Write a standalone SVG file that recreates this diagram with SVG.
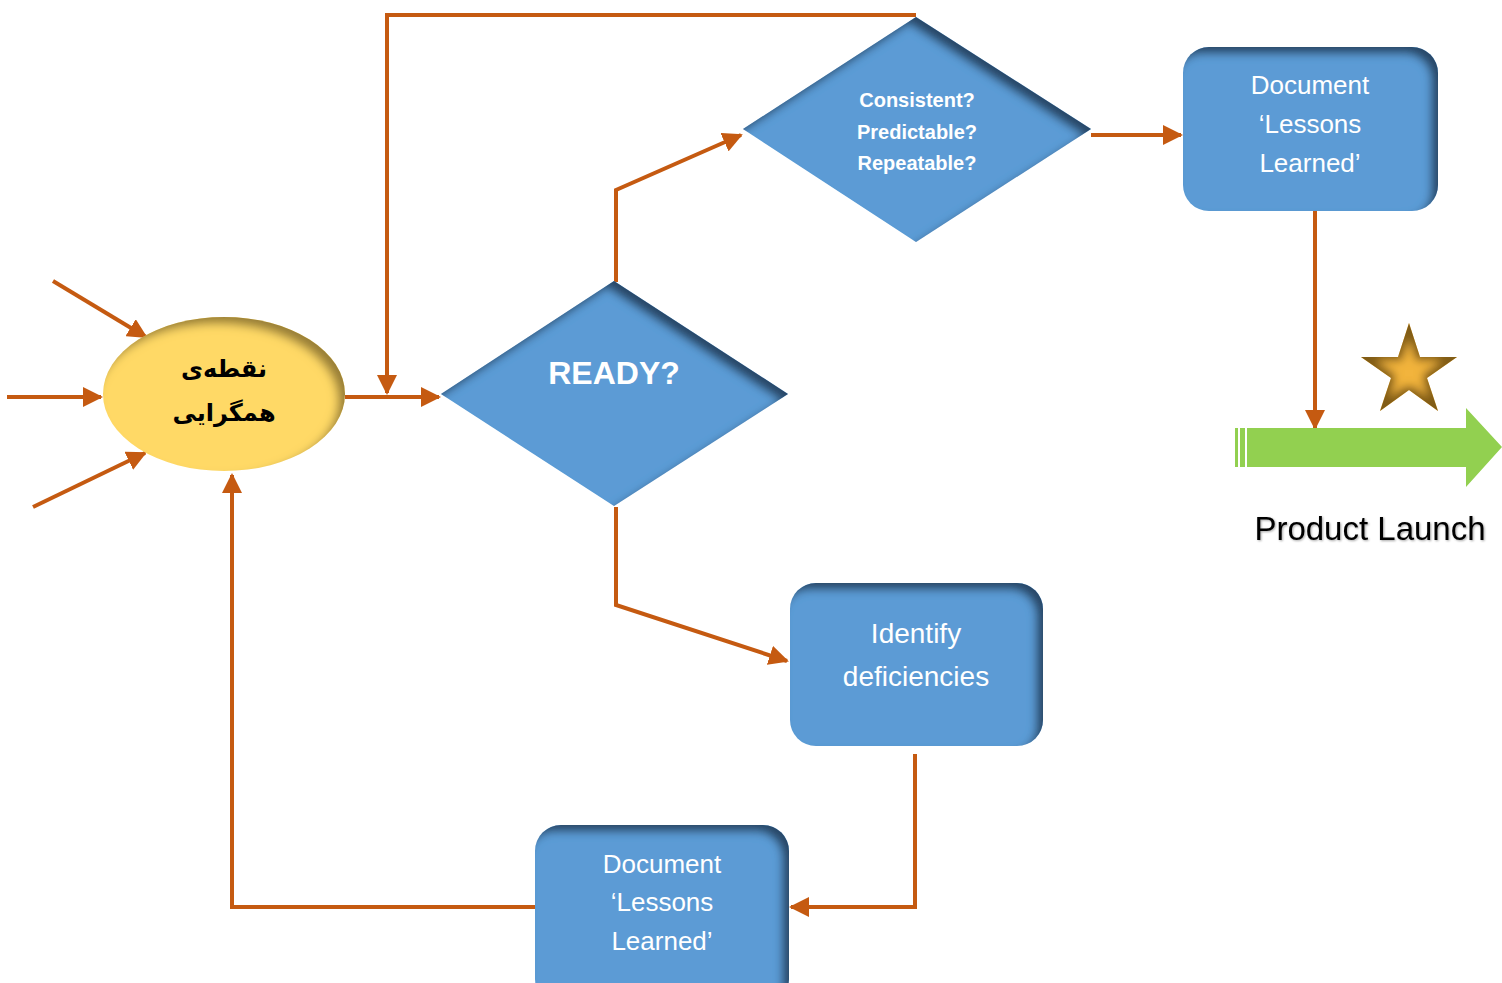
<svg xmlns="http://www.w3.org/2000/svg" width="1502" height="983" viewBox="0 0 1502 983">
  <defs>
    <style>
      .conn { fill: none; stroke: #C55A11; stroke-width: 4; }
      .blue { fill: #5B9BD5; }
      .wt { fill: #FFFFFF; font-family: "Liberation Sans", Arial, sans-serif; text-anchor: middle; }
      .wb { fill: #FFFFFF; font-family: "Liberation Sans", Arial, sans-serif; font-weight: bold; text-anchor: middle; }
    </style>
    <marker id="arr" viewBox="0 0 10 10" refX="9" refY="5" markerWidth="5" markerHeight="5" markerUnits="strokeWidth" orient="auto">
      <path d="M0,0 L10,5 L0,10 z" fill="#C55A11"/>
    </marker>
    <!-- inner shading along the upper-right edge -->
    <filter id="inset" x="-10%" y="-10%" width="120%" height="120%">
      <feOffset in="SourceAlpha" dx="-7" dy="7" result="off"/>
      <feGaussianBlur in="off" stdDeviation="4" result="blur"/>
      <feComposite in="SourceAlpha" in2="blur" operator="out" result="edge"/>
      <feFlood flood-color="#1E3550" flood-opacity="0.9"/>
      <feComposite in2="edge" operator="in" result="shadow"/>
      <feMerge><feMergeNode in="SourceGraphic"/><feMergeNode in="shadow"/></feMerge>
    </filter>
    <filter id="insetY" x="-10%" y="-10%" width="120%" height="120%">
      <feOffset in="SourceAlpha" dx="-7" dy="7" result="off"/>
      <feGaussianBlur in="off" stdDeviation="5" result="blur"/>
      <feComposite in="SourceAlpha" in2="blur" operator="out" result="edge"/>
      <feFlood flood-color="#6B5520" flood-opacity="0.8"/>
      <feComposite in2="edge" operator="in" result="shadow"/>
      <feMerge><feMergeNode in="SourceGraphic"/><feMergeNode in="shadow"/></feMerge>
    </filter>
    <filter id="insetS" x="-10%" y="-10%" width="120%" height="120%">
      <feMorphology in="SourceAlpha" operator="erode" radius="4" result="er"/>
      <feGaussianBlur in="er" stdDeviation="4" result="blur"/>
      <feComposite in="SourceAlpha" in2="blur" operator="out" result="edge"/>
      <feFlood flood-color="#6B4A12" flood-opacity="0.9"/>
      <feComposite in2="edge" operator="in" result="shadow"/>
      <feMerge><feMergeNode in="SourceGraphic"/><feMergeNode in="shadow"/></feMerge>
    </filter>
    <filter id="soft" x="-5%" y="-20%" width="110%" height="140%">
      <feGaussianBlur in="SourceAlpha" stdDeviation="1.2"/>
      <feOffset dx="1" dy="1" result="s"/>
      <feFlood flood-color="#000" flood-opacity="0.35"/>
      <feComposite in2="s" operator="in"/>
      <feMerge><feMergeNode/><feMergeNode in="SourceGraphic"/></feMerge>
    </filter>
  </defs>

  <!-- connectors -->
  <g id="connectors">
    <path class="conn" d="M53,281 L146,337" marker-end="url(#arr)"/>
    <path class="conn" d="M7,397 L101,397" marker-end="url(#arr)"/>
    <path class="conn" d="M33,507 L145,453" marker-end="url(#arr)"/>
    <path class="conn" d="M345,397 L439,397" marker-end="url(#arr)"/>
    <path class="conn" d="M916,15 L387,15 L387,393" marker-end="url(#arr)"/>
    <path class="conn" d="M616,282 L616,190 L741,135" marker-end="url(#arr)"/>
    <path class="conn" d="M1091,135 L1181,135" marker-end="url(#arr)"/>
    <path class="conn" d="M1315,211 L1315,428" marker-end="url(#arr)"/>
    <path class="conn" d="M616,507 L616,605 L787,661" marker-end="url(#arr)"/>
    <path class="conn" d="M915,754 L915,907 L791,907" marker-end="url(#arr)"/>
    <path class="conn" d="M535,907 L232,907 L232,475" marker-end="url(#arr)"/>
  </g>

  <!-- convergence point -->
  <g id="start">
    <ellipse cx="224" cy="394" rx="121" ry="77" fill="#FFD966" filter="url(#insetY)"/>
    <text x="224" y="377" font-family="'DejaVu Sans', sans-serif" font-weight="bold" font-size="24" text-anchor="middle" fill="#000" direction="rtl">نقطه‌ی</text>
    <text x="224" y="421" font-family="'DejaVu Sans', sans-serif" font-weight="bold" font-size="24" text-anchor="middle" fill="#000" direction="rtl">همگرایی</text>
  </g>

  <g id="ready">
    <polygon class="blue" points="441,394 614,281 788,394 614,506" filter="url(#inset)"/>
    <text class="wb" x="614" y="384" font-size="32">READY?</text>
  </g>

  <g id="quality">
    <polygon class="blue" points="743,129 916,17 1091,129 916,242" filter="url(#inset)"/>
    <text class="wb" x="917" y="107" font-size="20">Consistent?</text>
    <text class="wb" x="917" y="139" font-size="20">Predictable?</text>
    <text class="wb" x="917" y="170" font-size="20">Repeatable?</text>
  </g>

  <g id="lessons-top">
    <rect class="blue" x="1183" y="47" width="255" height="164" rx="26" filter="url(#inset)"/>
    <text class="wt" x="1310" y="94" font-size="26">Document</text>
    <text class="wt" x="1310" y="133" font-size="26">‘Lessons</text>
    <text class="wt" x="1310" y="172" font-size="26">Learned’</text>
  </g>

  <g id="identify">
    <rect class="blue" x="790" y="583" width="253" height="163" rx="26" filter="url(#inset)"/>
    <text class="wt" x="916" y="643" font-size="28">Identify</text>
    <text class="wt" x="916" y="686" font-size="28">deficiencies</text>
  </g>

  <g id="lessons-bottom">
    <rect class="blue" x="535" y="825" width="254" height="180" rx="26" filter="url(#inset)"/>
    <text class="wt" x="662" y="873" font-size="26">Document</text>
    <text class="wt" x="662" y="911" font-size="26">‘Lessons</text>
    <text class="wt" x="662" y="950" font-size="26">Learned’</text>
  </g>

  <g id="launch">
    <rect x="1235" y="428" width="3" height="39" fill="#92D050"/>
    <rect x="1240" y="428" width="5" height="39" fill="#92D050"/>
    <polygon points="1247,428 1466,428 1466,408 1502,447 1466,487 1466,467 1247,467" fill="#92D050"/>
    <polygon points="1409,323 1420,357 1457,357 1427,378 1438,411 1409,390 1380,411 1391,378 1361,357 1398,357" fill="#F2B43E" filter="url(#insetS)"/>
    <text x="1370" y="540" font-family="'Liberation Sans', Arial, sans-serif" font-size="33" text-anchor="middle" fill="#000" filter="url(#soft)">Product Launch</text>
  </g>
</svg>
